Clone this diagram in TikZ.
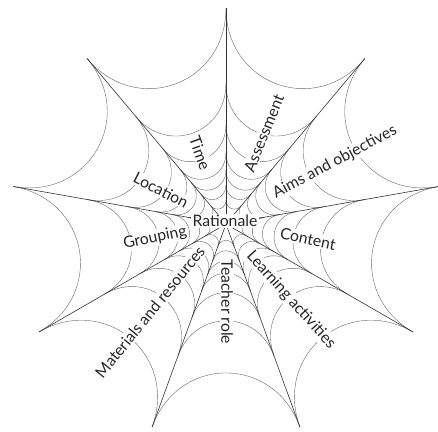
\documentclass[tikz,border=0pt]{standalone}
\usepackage{fontspec}
\setmainfont{Lato}
\begin{document}
\begin{tikzpicture}[x=1pt, y=1pt,
  thread/.style={black!60, line width=0.4pt},
  spoke/.style={black!80, line width=0.6pt},
  lbl/.style={fill=white, inner sep=1.2pt, text=black!85, font=\fontsize{15.75}{18}\selectfont}]
  \useasboundingbox (-226,-207) rectangle (212,224);
  % Coordinates
  \coordinate (O) at (0,0);
  \coordinate (A) at (90:216);
  \coordinate (B) at (50:216);
  \coordinate (C) at (10:216);
  \coordinate (D) at (-30:216);
  \coordinate (E) at (-70:216);
  \coordinate (F) at (-110:216);
  \coordinate (G) at (-150:216);
  \coordinate (H) at (170:216);
  \coordinate (I) at (130:216);

  % Threads
  \foreach \a in {90,50,...,-230} {
    \foreach \f in {1,0.65,0.46,0.33,0.25,0.18,0.11} {
      \pgfmathsetmacro\r{216*\f}
      \pgfmathsetmacro\c{0.645*\r}
      \pgfmathsetmacro\b{\a-40}
      \draw[thread] (\a:\r) .. controls (\a:\c) and (\b:\c) .. (\b:\r);
    }
  }

  % Spokes
  \draw[spoke] (O) -- (A);
  \draw[spoke] (O) -- (B);
  \draw[spoke] (O) -- (C);
  \draw[spoke] (O) -- (D);
  \draw[spoke] (O) -- (E);
  \draw[spoke] (O) -- (F);
  \draw[spoke] (O) -- (G);
  \draw[spoke] (O) -- (H);
  \draw[spoke] (O) -- (I);

  % Labels
  \node[lbl] (rationale) at (-1,3) {Rationale};
  \node[lbl, rotate=-70] (time) at (-26,71) {Time};
  \node[lbl, rotate=68] (assessment) at (38,91) {Assessment};
  \node[lbl, rotate=28] (aims) at (109,62) {Aims and objectives};
  \node[lbl, rotate=-12] (content) at (82,-15) {Content};
  \node[lbl, rotate=-48] (learning) at (65,-76) {Learning activities};
  \node[lbl, rotate=-90] (teacher) at (1,-78) {Teacher role};
  \node[lbl, rotate=51] (materials) at (-76,-88) {Materials and resources};
  \node[lbl, rotate=12] (grouping) at (-71,-14) {Grouping};
  \node[lbl, rotate=-27] (location) at (-65,34) {Location};
\end{tikzpicture}
\end{document}
